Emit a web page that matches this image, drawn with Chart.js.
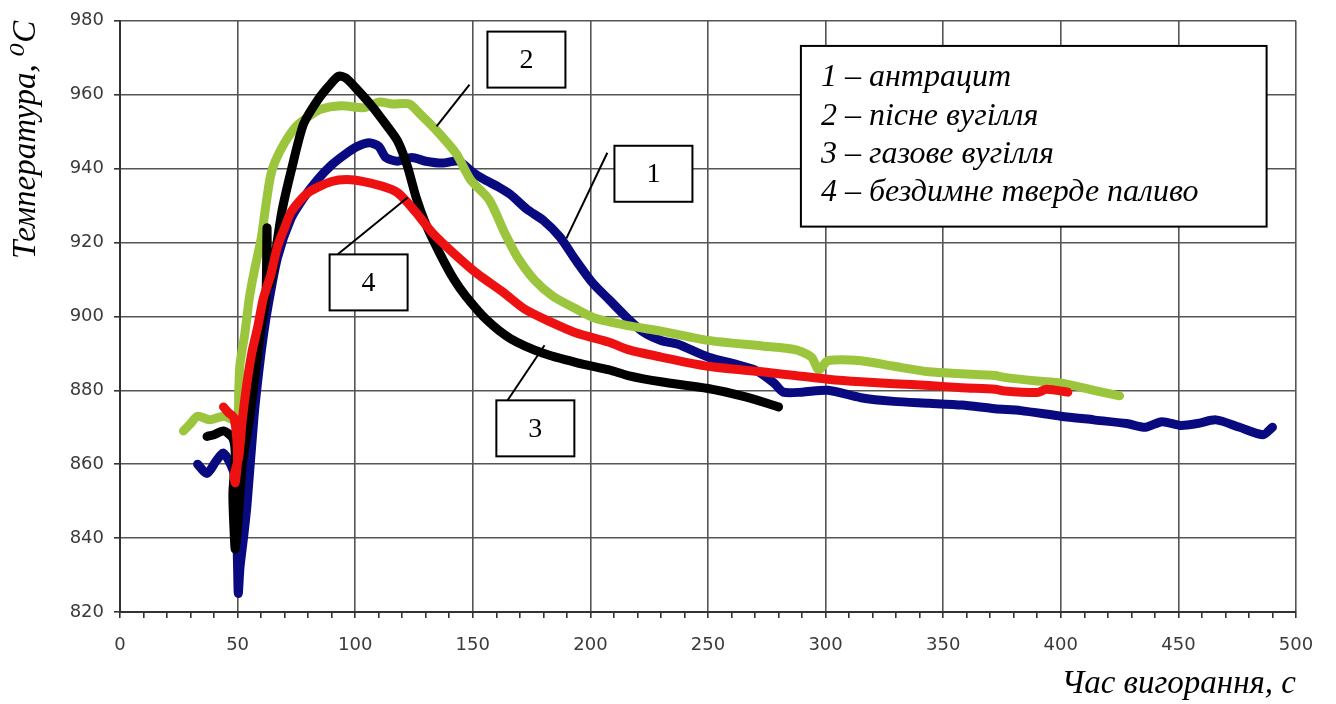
<!DOCTYPE html>
<html lang="uk">
<head>
    <meta charset="UTF-8">
    <title>Температура горіння палива</title>
    <script src="https://cdn.jsdelivr.net/npm/chart.js"></script>
    <style>
        html, body { margin: 0; padding: 0; background: #fff; }
        .chart-container { position: relative; width: 1336px; height: 704px; }
    </style>
</head>
<body>
    <div class="chart-container">
        <canvas id="burnChart"></canvas>
    </div>

    <script>
        // 1 - антрацит (blue)
        const antracitX = [33, 37, 41, 44, 47, 48.6, 49.5, 50, 50.3, 51, 52.5, 54, 57, 59, 61, 63, 67, 72.7, 78, 84, 90, 96, 101, 106, 110, 113, 118, 124, 130, 137, 144, 150, 155, 161, 166, 173, 180, 187, 194, 201, 208, 215, 222, 230, 237, 250, 262, 270, 278, 282, 290, 301, 315, 329, 344, 358, 372, 383, 400, 414, 428, 436, 443, 451, 458, 466, 476, 486, 490];
        const antracitY = [860, 857.5, 861, 863, 860, 857, 845, 832, 825, 832, 840, 849, 873, 885, 895, 903, 916, 926.5, 932, 937, 941, 944, 946, 947, 946, 943, 942, 943, 942, 941.5, 942, 939, 937, 935, 933, 929, 926, 921.5, 915, 909, 904.5, 900, 896, 893.5, 892.5, 889, 887, 885.5, 882, 879.5, 879.5, 880, 878, 877, 876.5, 876, 875, 874.5, 873, 872, 871, 870, 871.5, 870.5, 871, 872, 870, 868, 870];

        // 2 - пісне вугілля (green)
        const pisneX = [27, 30, 33, 38, 44, 48, 50, 50.5, 51, 53, 55, 57, 60, 62, 64, 66, 70, 75, 80, 85, 94, 104, 110, 116, 123, 128, 135, 143, 149, 157, 164, 169, 176, 184, 194, 202, 216, 230, 250, 273, 287, 294, 297, 301, 315, 329, 344, 358, 372, 376, 390, 400, 414, 425];
        const pisneY = [869, 871, 873, 872, 873, 872, 871, 880, 887, 895, 905, 912, 921, 930, 938, 942, 947, 951.5, 954, 956, 957, 956.5, 958, 957.5, 957.5, 954.5, 950, 944, 937, 931.5, 922, 916, 910, 905.5, 902, 899.5, 897.5, 896, 893.5, 892, 891, 889, 885.5, 888, 888, 886.5, 885, 884.5, 884, 883.5, 882.5, 882, 880, 878.5];

        // 3 - газове вугілля (black)
        const gazoveX = [37, 40, 44, 48, 49, 48, 48.5, 49, 50, 52, 55, 57, 60, 62, 62.5, 63, 65, 67, 69, 73, 78, 84, 89, 93, 96, 100, 107, 113, 118, 122, 126, 130, 136, 142, 147, 156, 166, 180, 194, 208, 216, 230, 250, 266, 280];
        const gazoveY = [867.5, 868, 869, 867, 862, 852, 842, 837, 843, 860, 872, 882, 897, 905, 924, 908, 912, 921, 929, 940, 952, 958.5, 962.5, 965, 964.5, 962, 957, 952, 947.5, 941, 932, 925, 917, 910, 905.5, 899, 894, 890, 887.5, 885.5, 884, 882.3, 880.5, 878.2, 875.5];

        // 4 - бездимне тверде паливо (red)
        const bezdymneX = [44, 46, 48.5, 50, 49, 48.5, 50.5, 52, 54, 56, 58.5, 61, 64, 67, 70, 73, 80, 90, 98, 107, 115, 118, 122, 126, 133, 142, 152, 163, 172, 183, 194, 208, 216, 230, 250, 273, 287, 301, 315, 329, 344, 358, 372, 376, 390, 394, 403];
        const bezdymneY = [875.5, 874, 872.5, 862, 855, 857, 862, 872, 882, 890, 897, 905, 911, 919, 924, 928.5, 933.5, 936.5, 937, 936, 934.5, 933.5, 931, 928, 922.5, 917, 911.5, 906.5, 902, 898.5, 895.5, 893, 891, 889, 886.5, 885, 884, 883, 882.3, 881.8, 881.3, 880.7, 880.3, 879.8, 879.4, 880.3, 879.5];

        const seriesNames = ['антрацит', 'пісне вугілля', 'газове вугілля', 'бездимне тверде паливо'];
        const xTicks = [0, 50, 100, 150, 200, 250, 300, 350, 400, 450, 500];
        const yTicks = [820, 840, 860, 880, 900, 920, 940, 960, 980];

        // numbered call-outs: label, box centre, leader line (data units)
        const calloutLabels = ['2', '1', '4', '3'];
        const calloutBox = [[172.8, 969.5], [226.8, 938.6], [105.7, 909.2], [176.6, 869.7]];
        const calloutLine = [
            [[148.6, 962.7], [134.6, 951.4]],
            [[207.2, 944.3], [189.8, 921.1]],
            [[92.6, 916.8], [122.3, 932.2]],
            [[164.8, 877.3], [180.5, 892.2]]
        ];
        // legend box corners (data units)
        const legendBox = [[289.5, 973.2], [487.5, 924.3]];

        function toPoints(xs, ys) {
            return xs.map((x, i) => ({ x: x, y: ys[i] }));
        }

        const serif = '"Liberation Serif", "DejaVu Serif", serif';

        const calloutPlugin = {
            id: 'callouts',
            afterDatasetsDraw(chart) {
                const { ctx, scales: { x, y } } = chart;
                ctx.save();
                ctx.strokeStyle = '#000';
                ctx.lineWidth = 2;
                ctx.fillStyle = '#000';

                // leader lines
                calloutLine.forEach(seg => {
                    ctx.beginPath();
                    ctx.moveTo(x.getPixelForValue(seg[0][0]), y.getPixelForValue(seg[0][1]));
                    ctx.lineTo(x.getPixelForValue(seg[1][0]), y.getPixelForValue(seg[1][1]));
                    ctx.stroke();
                });

                // numbered boxes
                ctx.font = '28px ' + serif;
                ctx.textAlign = 'center';
                ctx.textBaseline = 'middle';
                calloutBox.forEach((c, i) => {
                    const cx = x.getPixelForValue(c[0]);
                    const cy = y.getPixelForValue(c[1]);
                    ctx.fillStyle = '#fff';
                    ctx.fillRect(cx - 39, cy - 28, 78, 56);
                    ctx.strokeRect(cx - 39, cy - 28, 78, 56);
                    ctx.fillStyle = '#000';
                    ctx.fillText(calloutLabels[i], cx, cy + 1);
                });

                // legend
                const lx = x.getPixelForValue(legendBox[0][0]);
                const ly = y.getPixelForValue(legendBox[0][1]);
                const rx = x.getPixelForValue(legendBox[1][0]);
                const by = y.getPixelForValue(legendBox[1][1]);
                ctx.fillStyle = '#fff';
                ctx.fillRect(lx, ly, rx - lx, by - ly);
                ctx.strokeRect(lx, ly, rx - lx, by - ly);
                ctx.fillStyle = '#000';
                ctx.font = 'italic 32px ' + serif;
                ctx.textAlign = 'left';
                seriesNames.forEach((name, i) => {
                    ctx.fillText((i + 1) + ' – ' + name, lx + 20, ly + 32 + i * 38.3);
                });
                ctx.restore();
            }
        };

        const ctx = document.getElementById('burnChart').getContext('2d');
        const burnChart = new Chart(ctx, {
            type: 'scatter',
            data: {
                datasets: [
                    { label: seriesNames[0], data: toPoints(antracitX, antracitY), borderColor: '#0a0a80', order: 4 },
                    { label: seriesNames[1], data: toPoints(pisneX, pisneY), borderColor: '#9bc53d', order: 3 },
                    { label: seriesNames[2], data: toPoints(gazoveX, gazoveY), borderColor: '#000000', order: 2 },
                    { label: seriesNames[3], data: toPoints(bezdymneX, bezdymneY), borderColor: '#ee1111', order: 1 }
                ].map(ds => Object.assign(ds, {
                    showLine: true,
                    borderWidth: 9,
                    pointRadius: 0,
                    tension: 0.25,
                    borderJoinStyle: 'round',
                    borderCapStyle: 'round'
                }))
            },
            options: {
                responsive: true,
                maintainAspectRatio: false,
                animation: false,
                layout: { padding: { top: 20, right: 40, left: 0, bottom: 0 } },
                plugins: {
                    legend: { display: false },
                    tooltip: { enabled: false }
                },
                scales: {
                    x: {
                        type: 'linear',
                        min: 0,
                        max: 500,
                        afterFit(scale) { scale.height = 92; },
                        afterBuildTicks(scale) {
                            const t = [];
                            for (let v = 0; v <= 500; v += 10) t.push({ value: v });
                            scale.ticks = t;
                        },
                        ticks: {
                            autoSkip: false,
                            maxRotation: 0,
                            padding: 17,
                            color: '#3a3a3a',
                            font: { family: '"DejaVu Sans", sans-serif', size: 18 },
                            callback: (v) => xTicks.includes(v) ? String(v) : ''
                        },
                        grid: {
                            color: (c) => xTicks.includes(c.tick && c.tick.value) ? '#555' : 'rgba(0,0,0,0)',
                            tickColor: '#333',
                            lineWidth: 1.6,
                            tickLength: 6
                        },
                        border: { color: '#333', width: 2 },
                        title: {
                            display: true,
                            text: 'Час вигорання, с',
                            align: 'end',
                            color: '#000',
                            font: { family: serif, size: 33, style: 'italic' },
                            padding: { top: 0, bottom: 0 }
                        }
                    },
                    y: {
                        type: 'linear',
                        min: 820,
                        max: 980,
                        afterFit(scale) { scale.width = 120; },
                        afterBuildTicks(scale) {
                            scale.ticks = yTicks.map(v => ({ value: v }));
                        },
                        ticks: {
                            padding: 10,
                            color: '#3a3a3a',
                            font: { family: '"DejaVu Sans", sans-serif', size: 18 }
                        },
                        grid: {
                            color: '#555',
                            tickColor: '#333',
                            lineWidth: 1.6,
                            tickLength: 6
                        },
                        border: { color: '#333', width: 2 },
                        title: {
                            display: true,
                            text: 'Температура, ⁰C',
                            align: 'end',
                            color: '#000',
                            font: { family: serif, size: 33, style: 'italic' },
                            padding: { top: 7, bottom: 0 }
                        }
                    }
                }
            },
            plugins: [calloutPlugin]
        });
    </script>
</body>
</html>
